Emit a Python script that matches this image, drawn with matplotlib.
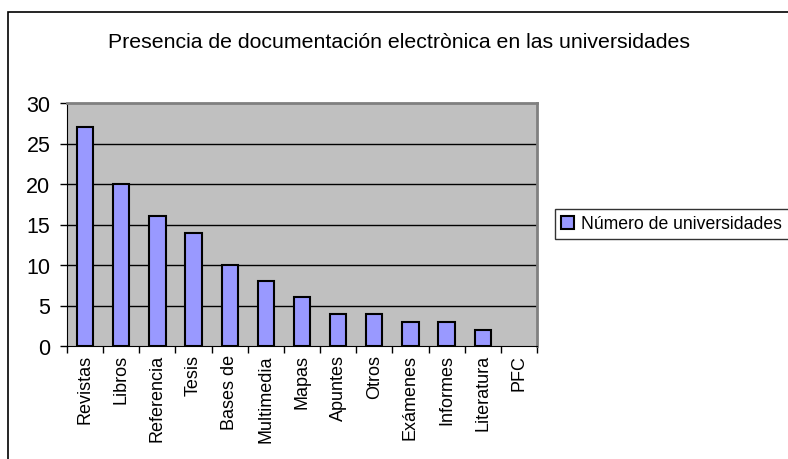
import matplotlib.pyplot as plt
import matplotlib.patches as mpatches
import numpy as np

plt.rcParams['font.family'] = ['Liberation Sans', 'DejaVu Sans']

categorias = ["Revistas", "Libros", "Referencia", "Tesis", "Bases de", "Multimedia",
              "Mapas", "Apuntes", "Otros", "Exámenes", "Informes", "Literatura", "PFC"]
universidades = [27, 20, 16, 14, 10, 8, 6, 4, 4, 3, 3, 2, 0]
y_ticks = [0, 5, 10, 15, 20, 25, 30]

W, H = 788, 460
fig = plt.figure(figsize=(W / 100, H / 100), dpi=100)

# outer chart border (runs off the right and bottom of the image)
fig.patches.append(mpatches.Rectangle((8 / W, -0.05), 1.0, 1 - 13 / H + 0.05,
                                      transform=fig.transFigure, fill=False,
                                      edgecolor='black', linewidth=1.2))

ax = fig.add_axes([67 / W, 1 - 347 / H, 470 / W, 243 / H])
ax.set_facecolor('#c0c0c0')

x = np.arange(len(categorias))
bordes = ['black' if v > 0 else 'none' for v in universidades]
ax.bar(x, universidades, width=0.45, color='#9999ff', edgecolor=bordes,
       linewidth=1.5, zorder=3, label='Número de universidades')

ax.set_xlim(-0.5, len(categorias) - 0.5)
ax.set_ylim(0, 30)
ax.set_yticks(y_ticks)
ax.set_yticklabels([str(v) for v in y_ticks], fontsize=15.5)
ax.set_xticks(x)
ax.set_xticklabels(categorias, rotation=90, fontsize=13, va='top')
ax.tick_params(axis='x', length=0, pad=6)
ax.set_xticks(np.arange(len(categorias) + 1) - 0.5, minor=True)
ax.tick_params(axis='x', which='minor', length=5, color='black', width=1)
ax.tick_params(axis='y', length=5, color='black', width=1, pad=7)

for v in y_ticks[1:-1]:
    ax.axhline(v, color='black', linewidth=1, zorder=1)

ax.spines['left'].set_color('black')
ax.spines['bottom'].set_color('black')
ax.spines['top'].set_color('#808080')
ax.spines['right'].set_color('#808080')
ax.spines['top'].set_linewidth(2)
ax.spines['right'].set_linewidth(2)
ax.spines['bottom'].set_zorder(4)

fig.text(398.5 / W, 1 - 48 / H, 'Presencia de documentación electrònica en las universidades',
         ha='center', va='baseline', fontsize=15.3)

leg = ax.legend(loc='center left', bbox_to_anchor=(555 / W, 1 - 225 / H),
                bbox_transform=fig.transFigure, fontsize=12.7, frameon=True,
                fancybox=False, borderpad=0.35, handlelength=0.7, handleheight=0.7,
                handletextpad=0.45, borderaxespad=0)
leg.get_frame().set_edgecolor('black')
leg.get_frame().set_linewidth(1)

fig.savefig('out.png', dpi=100)
